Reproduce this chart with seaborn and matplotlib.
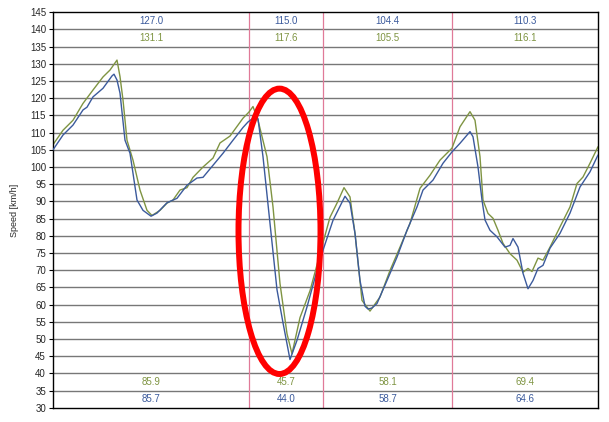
import numpy as np
import pandas as pd
import matplotlib
matplotlib.use("Agg")
import matplotlib.pyplot as plt
from matplotlib.patches import Ellipse
import seaborn as sns

# blue run (distance, speed)
blue_x = [0, 10, 20, 30, 34, 40, 50, 59, 61, 64, 67, 72, 77, 84, 90, 98, 104, 114, 124,
          134, 144, 150, 160, 170, 180, 190, 195, 200, 203, 205, 210, 217, 224, 230, 237,
          244, 254, 264, 270, 280, 292, 297, 302, 307, 312, 315, 319, 324, 334, 344, 354,
          364, 370, 380, 390, 399, 407, 417, 420, 425, 429, 432, 437, 444, 452, 457, 460,
          465, 470, 475, 480, 485, 490, 497, 507, 517, 527, 537, 545]
blue_v = [105.0, 109.3, 112.2, 116.6, 117.4, 120.4, 122.9, 126.5, 127.0, 125.3, 121.5,
          107.8, 104.0, 90.4, 87.4, 85.7, 86.6, 89.6, 90.9, 94.7, 96.8, 97.0, 100.5, 104.0,
          107.8, 111.5, 113.1, 114.2, 115.0, 114.0, 103.0, 83.6, 64.3, 54.7, 44.0, 49.6,
          59.3, 69.9, 75.8, 84.5, 91.5, 89.5, 80.7, 67.0, 59.5, 58.7, 59.0, 60.3, 67.0,
          73.8, 81.6, 88.4, 93.3, 96.2, 101.1, 104.4, 106.9, 110.3, 108.8, 100.0, 90.4,
          84.6, 81.6, 79.7, 76.7, 77.2, 79.2, 76.7, 69.1, 64.6, 67.0, 70.5, 71.4, 76.4,
          80.7, 86.6, 94.2, 98.6, 103.5]

# green run (distance, speed)
green_x = [0, 10, 20, 30, 40, 50, 57, 64, 67, 70, 74, 80, 87, 94, 99, 107, 114, 120, 127,
           134, 140, 150, 160, 167, 177, 184, 190, 196, 200, 205, 214, 220, 227, 234, 239,
           247, 257, 267, 277, 284, 291, 297, 302, 309, 317, 327, 337, 347, 357, 367, 377,
           387, 399, 407, 417, 422, 427, 430, 435, 440, 445, 450, 457, 464, 470, 475, 479,
           485, 490, 497, 507, 517, 524, 530, 537, 545]
green_v = [106.5, 110.7, 113.6, 118.5, 122.4, 126.2, 128.2, 131.1, 126.3, 119.5, 107.8,
           102.0, 93.3, 87.4, 85.9, 87.4, 89.5, 90.4, 93.3, 94.0, 97.0, 100.0, 102.6, 107.0,
           109.0, 111.8, 114.2, 116.0, 117.6, 113.6, 103.0, 88.4, 66.1, 51.5, 45.7, 56.2,
           64.0, 74.8, 85.4, 89.5, 94.0, 91.3, 80.7, 61.2, 58.1, 62.2, 69.9, 76.7, 83.6,
           93.8, 97.6, 102.0, 105.5, 111.7, 116.1, 113.6, 103.0, 90.4, 86.5, 85.1, 81.6,
           77.8, 74.8, 72.9, 69.4, 70.5, 69.6, 73.5, 72.9, 76.7, 82.6, 88.4, 95.2, 97.1,
           101.1, 105.9]

# section borders and max/min per section
sections = [0, 196, 270, 399, 545]
blue_max = ["127.0", "115.0", "104.4", "110.3"]
green_max = ["131.1", "117.6", "105.5", "116.1"]
green_min = ["85.9", "45.7", "58.1", "69.4"]
blue_min = ["85.7", "44.0", "58.7", "64.6"]

blue_col = "#3b5a9c"
green_col = "#7f9442"

sns.set_style("white")
plt.rcParams['font.family'] = ['Liberation Sans', 'DejaVu Sans']

fig = plt.figure(figsize=(6.09, 4.22), dpi=100)
ax = fig.add_axes([53 / 609, 1 - 407.7 / 422, 545 / 609, 395.4 / 422])

for yv in range(35, 145, 5):
    ax.axhline(yv, color="#777777", lw=1.0, zorder=1)
for xv in sections[1:-1]:
    ax.axvline(xv, color="#e07a98", lw=0.9, zorder=1)

sns.lineplot(x=blue_x, y=blue_v, color=blue_col, lw=1.0, ax=ax, zorder=3)
sns.lineplot(x=green_x, y=green_v, color=green_col, lw=1.0, ax=ax, zorder=2)

# section labels
for i in range(4):
    cx = (sections[i] + sections[i + 1]) / 2
    ax.text(cx, 142.5, blue_max[i], color=blue_col, fontsize=7, ha="center", va="center")
    ax.text(cx, 137.5, green_max[i], color=green_col, fontsize=7, ha="center", va="center")
    ax.text(cx, 37.5, green_min[i], color=green_col, fontsize=7, ha="center", va="center")
    ax.text(cx, 32.5, blue_min[i], color=blue_col, fontsize=7, ha="center", va="center")

ax.add_patch(Ellipse((226.5, 81.3), width=82, height=83, fill=False,
                     edgecolor="red", lw=4.3, zorder=5, clip_on=False))

ax.set_xlim(0, 545)
ax.set_ylim(30, 145)
ax.set_yticks(range(30, 150, 5))
ax.set_xticks([])
ax.tick_params(axis="y", direction="out", length=3, width=0.8, labelsize=7, pad=2,
               left=True, color="black")
for s in ax.spines.values():
    s.set_color("black")
    s.set_linewidth(1.0)
ax.set_ylabel("Speed [km/h]", fontsize=6.5, labelpad=8)

fig.savefig("out.png", dpi=100)
